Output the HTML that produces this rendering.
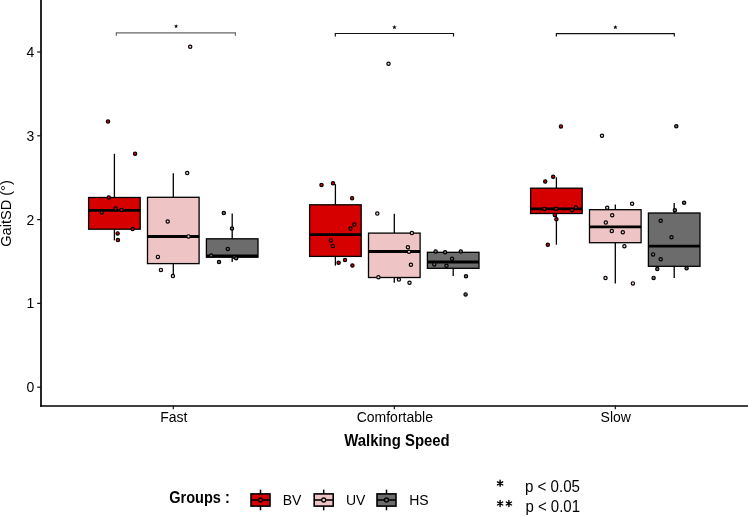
<!DOCTYPE html><html><head><meta charset="utf-8"><style>html,body{margin:0;padding:0;background:#fff;width:748px;height:516px;overflow:hidden}svg{display:block}text{font-family:"Liberation Sans",sans-serif}</style></head><body>
<svg width="748" height="516" viewBox="0 0 748 516" style="will-change:transform">
<rect x="0" y="0" width="748" height="516" fill="#fff"/>
<line x1="114.4" y1="153.8" x2="114.4" y2="197.5" stroke="#000" stroke-width="1.3"/>
<line x1="114.4" y1="229.2" x2="114.4" y2="240.4" stroke="#000" stroke-width="1.3"/>
<rect x="88.6" y="197.5" width="51.6" height="31.7" fill="#d60000" stroke="#000" stroke-width="1.3"/>
<line x1="88.6" y1="210.3" x2="140.2" y2="210.3" stroke="#000" stroke-width="2.8"/>
<line x1="173.3" y1="173.3" x2="173.3" y2="197.3" stroke="#000" stroke-width="1.3"/>
<line x1="173.3" y1="263.6" x2="173.3" y2="276.5" stroke="#000" stroke-width="1.3"/>
<rect x="147.5" y="197.3" width="51.6" height="66.3" fill="#efc4c4" stroke="#000" stroke-width="1.3"/>
<line x1="147.5" y1="236.5" x2="199.1" y2="236.5" stroke="#000" stroke-width="2.8"/>
<line x1="232.2" y1="213.4" x2="232.2" y2="238.8" stroke="#000" stroke-width="1.3"/>
<line x1="232.2" y1="257.2" x2="232.2" y2="262.0" stroke="#000" stroke-width="1.3"/>
<rect x="206.4" y="238.8" width="51.6" height="18.4" fill="#6c6c6c" stroke="#000" stroke-width="1.3"/>
<line x1="206.4" y1="255.9" x2="258.0" y2="255.9" stroke="#000" stroke-width="2.8"/>
<line x1="335.4" y1="184.1" x2="335.4" y2="204.8" stroke="#000" stroke-width="1.3"/>
<line x1="335.4" y1="256.4" x2="335.4" y2="265.6" stroke="#000" stroke-width="1.3"/>
<rect x="309.6" y="204.8" width="51.6" height="51.6" fill="#d60000" stroke="#000" stroke-width="1.3"/>
<line x1="309.6" y1="234.7" x2="361.2" y2="234.7" stroke="#000" stroke-width="2.8"/>
<line x1="394.3" y1="213.8" x2="394.3" y2="233.1" stroke="#000" stroke-width="1.3"/>
<line x1="394.3" y1="277.5" x2="394.3" y2="282.8" stroke="#000" stroke-width="1.3"/>
<rect x="368.5" y="233.1" width="51.6" height="44.4" fill="#efc4c4" stroke="#000" stroke-width="1.3"/>
<line x1="368.5" y1="251.5" x2="420.1" y2="251.5" stroke="#000" stroke-width="2.8"/>
<line x1="453.2" y1="252.3" x2="453.2" y2="252.3" stroke="#000" stroke-width="1.3"/>
<line x1="453.2" y1="268.3" x2="453.2" y2="276.1" stroke="#000" stroke-width="1.3"/>
<rect x="427.4" y="252.3" width="51.6" height="16.0" fill="#6c6c6c" stroke="#000" stroke-width="1.3"/>
<line x1="427.4" y1="262.0" x2="479.0" y2="262.0" stroke="#000" stroke-width="2.8"/>
<line x1="556.4" y1="177.3" x2="556.4" y2="188.2" stroke="#000" stroke-width="1.3"/>
<line x1="556.4" y1="213.5" x2="556.4" y2="244.7" stroke="#000" stroke-width="1.3"/>
<rect x="530.6" y="188.2" width="51.6" height="25.3" fill="#d60000" stroke="#000" stroke-width="1.3"/>
<line x1="530.6" y1="208.8" x2="582.2" y2="208.8" stroke="#000" stroke-width="2.8"/>
<line x1="615.3" y1="204.4" x2="615.3" y2="209.7" stroke="#000" stroke-width="1.3"/>
<line x1="615.3" y1="242.7" x2="615.3" y2="283.5" stroke="#000" stroke-width="1.3"/>
<rect x="589.5" y="209.7" width="51.6" height="33.0" fill="#efc4c4" stroke="#000" stroke-width="1.3"/>
<line x1="589.5" y1="226.8" x2="641.1" y2="226.8" stroke="#000" stroke-width="2.8"/>
<line x1="674.2" y1="203.0" x2="674.2" y2="213.0" stroke="#000" stroke-width="1.3"/>
<line x1="674.2" y1="266.3" x2="674.2" y2="278.0" stroke="#000" stroke-width="1.3"/>
<rect x="648.4" y="213.0" width="51.6" height="53.3" fill="#6c6c6c" stroke="#000" stroke-width="1.3"/>
<line x1="648.4" y1="246.1" x2="700.0" y2="246.1" stroke="#000" stroke-width="2.8"/>
<circle cx="108.0" cy="121.6" r="1.65" fill="#d40000" stroke="#000" stroke-width="1.2"/>
<circle cx="135.1" cy="153.8" r="1.65" fill="#d40000" stroke="#000" stroke-width="1.2"/>
<circle cx="108.8" cy="197.5" r="1.65" fill="#d40000" stroke="#000" stroke-width="1.2"/>
<circle cx="115.6" cy="208.6" r="1.65" fill="#d40000" stroke="#000" stroke-width="1.2"/>
<circle cx="121.5" cy="209.9" r="1.65" fill="#d40000" stroke="#000" stroke-width="1.2"/>
<circle cx="101.8" cy="212.6" r="1.65" fill="#d40000" stroke="#000" stroke-width="1.2"/>
<circle cx="132.6" cy="229.0" r="1.65" fill="#d40000" stroke="#000" stroke-width="1.2"/>
<circle cx="117.6" cy="233.4" r="1.65" fill="#d40000" stroke="#000" stroke-width="1.2"/>
<circle cx="117.9" cy="240.1" r="1.65" fill="#d40000" stroke="#000" stroke-width="1.2"/>
<circle cx="321.5" cy="184.9" r="1.65" fill="#d40000" stroke="#000" stroke-width="1.2"/>
<circle cx="333.0" cy="183.3" r="1.65" fill="#d40000" stroke="#000" stroke-width="1.2"/>
<circle cx="352.1" cy="198.2" r="1.65" fill="#d40000" stroke="#000" stroke-width="1.2"/>
<circle cx="354.3" cy="224.6" r="1.65" fill="#d40000" stroke="#000" stroke-width="1.2"/>
<circle cx="350.5" cy="228.5" r="1.65" fill="#d40000" stroke="#000" stroke-width="1.2"/>
<circle cx="330.9" cy="240.4" r="1.65" fill="#d40000" stroke="#000" stroke-width="1.2"/>
<circle cx="332.9" cy="245.9" r="1.65" fill="#d40000" stroke="#000" stroke-width="1.2"/>
<circle cx="338.6" cy="262.7" r="1.65" fill="#d40000" stroke="#000" stroke-width="1.2"/>
<circle cx="345.0" cy="260.0" r="1.65" fill="#d40000" stroke="#000" stroke-width="1.2"/>
<circle cx="352.4" cy="265.6" r="1.65" fill="#d40000" stroke="#000" stroke-width="1.2"/>
<circle cx="560.9" cy="126.4" r="1.65" fill="#d40000" stroke="#000" stroke-width="1.2"/>
<circle cx="545.2" cy="181.5" r="1.65" fill="#d40000" stroke="#000" stroke-width="1.2"/>
<circle cx="553.2" cy="176.7" r="1.65" fill="#d40000" stroke="#000" stroke-width="1.2"/>
<circle cx="544.3" cy="208.9" r="1.65" fill="#d40000" stroke="#000" stroke-width="1.2"/>
<circle cx="556.1" cy="208.7" r="1.65" fill="#d40000" stroke="#000" stroke-width="1.2"/>
<circle cx="572.1" cy="210.0" r="1.65" fill="#d40000" stroke="#000" stroke-width="1.2"/>
<circle cx="575.9" cy="207.6" r="1.65" fill="#d40000" stroke="#000" stroke-width="1.2"/>
<circle cx="554.8" cy="214.9" r="1.65" fill="#d40000" stroke="#000" stroke-width="1.2"/>
<circle cx="556.4" cy="219.2" r="1.65" fill="#d40000" stroke="#000" stroke-width="1.2"/>
<circle cx="547.8" cy="244.7" r="1.65" fill="#d40000" stroke="#000" stroke-width="1.2"/>
<circle cx="190.2" cy="46.7" r="1.65" fill="#f3cfcf" stroke="#000" stroke-width="1.2"/>
<circle cx="187.2" cy="173.1" r="1.65" fill="#f3cfcf" stroke="#000" stroke-width="1.2"/>
<circle cx="167.7" cy="221.5" r="1.65" fill="#f3cfcf" stroke="#000" stroke-width="1.2"/>
<circle cx="188.5" cy="236.4" r="1.65" fill="#f3cfcf" stroke="#000" stroke-width="1.2"/>
<circle cx="157.9" cy="256.9" r="1.65" fill="#f3cfcf" stroke="#000" stroke-width="1.2"/>
<circle cx="160.9" cy="269.9" r="1.65" fill="#f3cfcf" stroke="#000" stroke-width="1.2"/>
<circle cx="172.9" cy="276.1" r="1.65" fill="#f3cfcf" stroke="#000" stroke-width="1.2"/>
<circle cx="388.5" cy="63.8" r="1.65" fill="#f3cfcf" stroke="#000" stroke-width="1.2"/>
<circle cx="377.3" cy="213.6" r="1.65" fill="#f3cfcf" stroke="#000" stroke-width="1.2"/>
<circle cx="411.9" cy="233.0" r="1.65" fill="#f3cfcf" stroke="#000" stroke-width="1.2"/>
<circle cx="407.9" cy="247.2" r="1.65" fill="#f3cfcf" stroke="#000" stroke-width="1.2"/>
<circle cx="409.0" cy="251.7" r="1.65" fill="#f3cfcf" stroke="#000" stroke-width="1.2"/>
<circle cx="410.9" cy="264.8" r="1.65" fill="#f3cfcf" stroke="#000" stroke-width="1.2"/>
<circle cx="378.4" cy="277.3" r="1.65" fill="#f3cfcf" stroke="#000" stroke-width="1.2"/>
<circle cx="398.9" cy="279.6" r="1.65" fill="#f3cfcf" stroke="#000" stroke-width="1.2"/>
<circle cx="409.5" cy="282.8" r="1.65" fill="#f3cfcf" stroke="#000" stroke-width="1.2"/>
<circle cx="602.0" cy="135.8" r="1.65" fill="#f3cfcf" stroke="#000" stroke-width="1.2"/>
<circle cx="607.2" cy="207.8" r="1.65" fill="#f3cfcf" stroke="#000" stroke-width="1.2"/>
<circle cx="632.1" cy="203.7" r="1.65" fill="#f3cfcf" stroke="#000" stroke-width="1.2"/>
<circle cx="612.2" cy="215.2" r="1.65" fill="#f3cfcf" stroke="#000" stroke-width="1.2"/>
<circle cx="605.8" cy="222.5" r="1.65" fill="#f3cfcf" stroke="#000" stroke-width="1.2"/>
<circle cx="611.8" cy="231.0" r="1.65" fill="#f3cfcf" stroke="#000" stroke-width="1.2"/>
<circle cx="622.8" cy="232.3" r="1.65" fill="#f3cfcf" stroke="#000" stroke-width="1.2"/>
<circle cx="624.4" cy="246.3" r="1.65" fill="#f3cfcf" stroke="#000" stroke-width="1.2"/>
<circle cx="605.5" cy="278.0" r="1.65" fill="#f3cfcf" stroke="#000" stroke-width="1.2"/>
<circle cx="632.9" cy="283.4" r="1.65" fill="#f3cfcf" stroke="#000" stroke-width="1.2"/>
<circle cx="223.8" cy="213.1" r="1.65" fill="#6c6c6c" stroke="#000" stroke-width="1.2"/>
<circle cx="232.0" cy="228.5" r="1.65" fill="#6c6c6c" stroke="#000" stroke-width="1.2"/>
<circle cx="227.8" cy="249.0" r="1.65" fill="#6c6c6c" stroke="#000" stroke-width="1.2"/>
<circle cx="211.2" cy="255.5" r="1.65" fill="#6c6c6c" stroke="#000" stroke-width="1.2"/>
<circle cx="234.6" cy="257.1" r="1.65" fill="#6c6c6c" stroke="#000" stroke-width="1.2"/>
<circle cx="236.2" cy="258.2" r="1.65" fill="#6c6c6c" stroke="#000" stroke-width="1.2"/>
<circle cx="219.0" cy="262.0" r="1.65" fill="#6c6c6c" stroke="#000" stroke-width="1.2"/>
<circle cx="435.6" cy="251.4" r="1.65" fill="#6c6c6c" stroke="#000" stroke-width="1.2"/>
<circle cx="445.1" cy="252.2" r="1.65" fill="#6c6c6c" stroke="#000" stroke-width="1.2"/>
<circle cx="460.8" cy="251.4" r="1.65" fill="#6c6c6c" stroke="#000" stroke-width="1.2"/>
<circle cx="452.1" cy="258.8" r="1.65" fill="#6c6c6c" stroke="#000" stroke-width="1.2"/>
<circle cx="434.3" cy="264.4" r="1.65" fill="#6c6c6c" stroke="#000" stroke-width="1.2"/>
<circle cx="446.5" cy="265.8" r="1.65" fill="#6c6c6c" stroke="#000" stroke-width="1.2"/>
<circle cx="466.0" cy="276.3" r="1.65" fill="#6c6c6c" stroke="#000" stroke-width="1.2"/>
<circle cx="465.6" cy="294.4" r="1.65" fill="#6c6c6c" stroke="#000" stroke-width="1.2"/>
<circle cx="676.3" cy="126.2" r="1.65" fill="#6c6c6c" stroke="#000" stroke-width="1.2"/>
<circle cx="684.1" cy="202.7" r="1.65" fill="#6c6c6c" stroke="#000" stroke-width="1.2"/>
<circle cx="674.9" cy="210.2" r="1.65" fill="#6c6c6c" stroke="#000" stroke-width="1.2"/>
<circle cx="660.7" cy="220.8" r="1.65" fill="#6c6c6c" stroke="#000" stroke-width="1.2"/>
<circle cx="671.5" cy="237.3" r="1.65" fill="#6c6c6c" stroke="#000" stroke-width="1.2"/>
<circle cx="653.1" cy="254.4" r="1.65" fill="#6c6c6c" stroke="#000" stroke-width="1.2"/>
<circle cx="660.7" cy="259.3" r="1.65" fill="#6c6c6c" stroke="#000" stroke-width="1.2"/>
<circle cx="657.3" cy="269.1" r="1.65" fill="#6c6c6c" stroke="#000" stroke-width="1.2"/>
<circle cx="686.6" cy="268.2" r="1.65" fill="#6c6c6c" stroke="#000" stroke-width="1.2"/>
<circle cx="653.6" cy="277.9" r="1.65" fill="#6c6c6c" stroke="#000" stroke-width="1.2"/>
<line x1="41.0" y1="0" x2="41.0" y2="406.8" stroke="#000" stroke-width="1.7"/>
<line x1="40.15" y1="406.0" x2="748" y2="406.0" stroke="#000" stroke-width="1.7"/>
<line x1="37.2" y1="387.2" x2="40.85" y2="387.2" stroke="#111" stroke-width="1.2"/>
<text x="34.3" y="392.2" font-size="14" text-anchor="end" fill="#000">0</text>
<line x1="37.2" y1="303.4" x2="40.85" y2="303.4" stroke="#111" stroke-width="1.2"/>
<text x="34.3" y="308.4" font-size="14" text-anchor="end" fill="#000">1</text>
<line x1="37.2" y1="219.6" x2="40.85" y2="219.6" stroke="#111" stroke-width="1.2"/>
<text x="34.3" y="224.6" font-size="14" text-anchor="end" fill="#000">2</text>
<line x1="37.2" y1="135.8" x2="40.85" y2="135.8" stroke="#111" stroke-width="1.2"/>
<text x="34.3" y="140.8" font-size="14" text-anchor="end" fill="#000">3</text>
<line x1="37.2" y1="52.0" x2="40.85" y2="52.0" stroke="#111" stroke-width="1.2"/>
<text x="34.3" y="57.0" font-size="14" text-anchor="end" fill="#000">4</text>
<line x1="173.3" y1="405.6" x2="173.3" y2="409.2" stroke="#111" stroke-width="1.2"/>
<text x="173.8" y="422.2" font-size="14" text-anchor="middle" fill="#000">Fast</text>
<line x1="394.3" y1="405.6" x2="394.3" y2="409.2" stroke="#111" stroke-width="1.2"/>
<text x="394.8" y="422.2" font-size="14" text-anchor="middle" fill="#000">Comfortable</text>
<line x1="615.3" y1="405.6" x2="615.3" y2="409.2" stroke="#111" stroke-width="1.2"/>
<text x="615.8" y="422.2" font-size="14" text-anchor="middle" fill="#000">Slow</text>
<text transform="translate(11,213.5) rotate(-90)" font-size="14.6" text-anchor="middle" fill="#000">GaitSD (°)</text>
<text x="344.2" y="445.7" font-size="15.6" font-weight="bold" fill="#000" textLength="105.5" lengthAdjust="spacingAndGlyphs">Walking Speed</text>
<path d="M116.3,35.75 V32.85 H235.4 V35.75" fill="none" stroke="#666" stroke-width="1.2"/>
<polygon points="176.10,24.10 176.64,25.55 178.19,25.62 176.98,26.59 177.39,28.08 176.10,27.22 174.81,28.08 175.22,26.59 174.01,25.62 175.56,25.55" fill="#000"/>
<path d="M335.3,36.4 V33.5 H453.5 V36.4" fill="none" stroke="#111" stroke-width="1.2"/>
<polygon points="394.40,24.90 394.99,26.48 396.68,26.56 395.36,27.61 395.81,29.24 394.40,28.31 392.99,29.24 393.44,27.61 392.12,26.56 393.81,26.48" fill="#000"/>
<path d="M556.4,36.5 V33.55 H674.3 V36.5" fill="none" stroke="#111" stroke-width="1.2"/>
<polygon points="615.40,24.90 615.99,26.48 617.68,26.56 616.36,27.61 616.81,29.24 615.40,28.31 613.99,29.24 614.44,27.61 613.12,26.56 614.81,26.48" fill="#000"/>
<text x="169.2" y="502.6" font-size="15.8" font-weight="bold" fill="#000" textLength="60.6" lengthAdjust="spacingAndGlyphs">Groups :</text>
<line x1="260.5" y1="489.6" x2="260.5" y2="510.3" stroke="#000" stroke-width="1.5"/>
<rect x="251.0" y="493.9" width="19" height="12.2" fill="#d60000" stroke="#000" stroke-width="1.6"/>
<line x1="251.0" y1="500" x2="270.0" y2="500" stroke="#000" stroke-width="1.6"/>
<circle cx="260.5" cy="500" r="2" fill="#d40000" stroke="#000" stroke-width="1.3"/>
<text x="282.7" y="504.6" font-size="14" fill="#000">BV</text>
<line x1="323.7" y1="489.6" x2="323.7" y2="510.3" stroke="#000" stroke-width="1.5"/>
<rect x="314.2" y="493.9" width="19" height="12.2" fill="#efc4c4" stroke="#000" stroke-width="1.6"/>
<line x1="314.2" y1="500" x2="333.2" y2="500" stroke="#000" stroke-width="1.6"/>
<circle cx="323.7" cy="500" r="2" fill="#f3cfcf" stroke="#000" stroke-width="1.3"/>
<text x="345.9" y="504.6" font-size="14" fill="#000">UV</text>
<line x1="386.5" y1="489.6" x2="386.5" y2="510.3" stroke="#000" stroke-width="1.5"/>
<rect x="377.0" y="493.9" width="19" height="12.2" fill="#6c6c6c" stroke="#000" stroke-width="1.6"/>
<line x1="377.0" y1="500" x2="396.0" y2="500" stroke="#000" stroke-width="1.6"/>
<circle cx="386.5" cy="500" r="2" fill="#6c6c6c" stroke="#000" stroke-width="1.3"/>
<text x="409.2" y="504.6" font-size="14" fill="#000">HS</text>
<path d="M500.10,480.30L500.10,486.30M497.50,481.80L502.70,484.80M502.70,481.80L497.50,484.80" stroke="#000" stroke-width="1.4" fill="none" stroke-linecap="round"/><path d="M500.10,500.50L500.10,506.50M497.50,502.00L502.70,505.00M502.70,502.00L497.50,505.00" stroke="#000" stroke-width="1.4" fill="none" stroke-linecap="round"/><path d="M508.90,500.50L508.90,506.50M506.30,502.00L511.50,505.00M511.50,502.00L506.30,505.00" stroke="#000" stroke-width="1.4" fill="none" stroke-linecap="round"/>
<text x="525.0" y="491.6" font-size="15.6" fill="#000" textLength="55.0" lengthAdjust="spacingAndGlyphs">p &lt; 0.05</text>
<text x="525.4" y="512.4" font-size="15.6" fill="#000" textLength="54.6" lengthAdjust="spacingAndGlyphs">p &lt; 0.01</text>
</svg></body></html>
